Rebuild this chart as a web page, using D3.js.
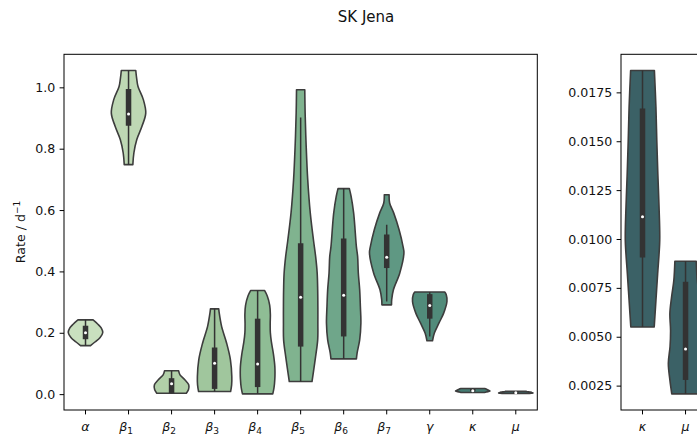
<!DOCTYPE html>
<html>
<head>
<meta charset="utf-8">
<script src="https://cdn.jsdelivr.net/npm/d3@7"></script>
<style>
  body { margin: 0; background: #fff; }
  svg { display: block; font-family: "DejaVu Sans", sans-serif; }
</style>
</head>
<body>
<svg id="chart" width="697" height="436"></svg>
<script>
// Fitted rate parameters for SK Jena: one violin per parameter.
const params = ["alpha", "beta1", "beta2", "beta3", "beta4", "beta5", "beta6", "beta7", "gamma", "kappa", "mu"];
const labelBase = ["α", "β", "β", "β", "β", "β", "β", "β", "γ", "κ", "μ"];
const labelSub = ["", "1", "2", "3", "4", "5", "6", "7", "", "", ""];
const fills = ["#c9e0bf", "#bed8b4", "#b1d0a8", "#a0c69d", "#8fbd95", "#80b38f", "#6fa68a", "#5f9883", "#518b7a", "#447b72", "#3c6a6b"];

// small-rate parameters repeated on their own axis
const zoomParams = ["kappa", "mu"];
const zoomFill = "#3b6166";

// box summary per parameter (same order as params)
const medians = [0.200, 0.913, 0.034, 0.101, 0.098, 0.316, 0.322, 0.446, 0.289, 0.01114, 0.00437];
const q1 = [0.179, 0.875, 0.003, 0.017, 0.023, 0.155, 0.188, 0.411, 0.246, 0.00905, 0.00279];
const q3 = [0.223, 0.995, 0.052, 0.152, 0.246, 0.492, 0.507, 0.520, 0.326, 0.01668, 0.00781];
const whiskLo = [0.158, 0.748, 0.003, 0.0085, 0.001, 0.041, 0.115, 0.302, 0.188, 0.0055, 0.00208];
const whiskHi = [0.242, 1.055, 0.076, 0.278, 0.338, 0.902, 0.670, 0.552, 0.333, 0.01862, 0.00886];

// density profiles: [rate, density relative to the violin's peak]
const shapeAlpha = [[0.158, 0.29], [0.170, 0.55], [0.185, 0.85], [0.200, 1.0], [0.215, 0.92], [0.228, 0.72], [0.242, 0.44]];
const shapeBeta1 = [[0.748, 0.25], [0.786, 0.31], [0.830, 0.48], [0.873, 0.78], [0.916, 1.0], [0.960, 0.86], [1.003, 0.55], [1.030, 0.47], [1.055, 0.42]];
const shapeBeta2 = [[0.003, 0.86], [0.014, 0.98], [0.030, 1.0], [0.047, 0.77], [0.063, 0.49], [0.076, 0.41]];
const shapeBeta3 = [[0.0085, 0.93], [0.030, 0.99], [0.057, 1.0], [0.112, 0.92], [0.166, 0.70], [0.220, 0.41], [0.264, 0.27], [0.278, 0.24]];
const shapeBeta4 = [[0.001, 0.88], [0.020, 0.95], [0.050, 1.0], [0.090, 1.0], [0.130, 0.92], [0.170, 0.80], [0.200, 0.74], [0.230, 0.73], [0.260, 0.74], [0.290, 0.70], [0.320, 0.56], [0.338, 0.40]];
const shapeBeta5 = [[0.041, 0.66], [0.068, 0.73], [0.123, 0.87], [0.177, 0.99], [0.230, 1.0], [0.286, 1.0], [0.340, 0.99], [0.395, 0.96], [0.449, 0.87], [0.500, 0.75], [0.590, 0.56], [0.700, 0.41], [0.810, 0.32], [0.917, 0.26], [0.992, 0.24]];
const shapeBeta6 = [[0.115, 0.74], [0.134, 0.78], [0.177, 0.93], [0.232, 1.0], [0.286, 0.97], [0.340, 0.93], [0.395, 0.85], [0.449, 0.81], [0.480, 0.74], [0.590, 0.58], [0.645, 0.43], [0.670, 0.33]];
const shapeBeta7 = [[0.291, 0.28], [0.308, 0.29], [0.340, 0.39], [0.395, 0.76], [0.460, 1.0], [0.481, 0.95], [0.536, 0.72], [0.590, 0.41], [0.623, 0.17], [0.650, 0.14]];
const shapeGamma = [[0.174, 0.16], [0.199, 0.27], [0.232, 0.54], [0.264, 0.81], [0.302, 1.0], [0.324, 0.96], [0.333, 0.87]];
const shapeKappa = [[0.0055, 0.68], [0.00687, 0.78], [0.00823, 0.88], [0.00993, 1.0], [0.01163, 0.96], [0.01334, 0.89], [0.01504, 0.83], [0.01673, 0.78], [0.01862, 0.69]];
const shapeMu = [[0.00208, 0.80], [0.00279, 0.91], [0.00364, 1.0], [0.0045, 0.90], [0.00534, 0.87], [0.00619, 0.91], [0.00704, 0.81], [0.00789, 0.68], [0.00886, 0.62]];

const shapes = [shapeAlpha, shapeBeta1, shapeBeta2, shapeBeta3, shapeBeta4, shapeBeta5, shapeBeta6, shapeBeta7, shapeGamma, shapeKappa, shapeMu];

const mainTicks = [0.0, 0.2, 0.4, 0.6, 0.8, 1.0];
const zoomTicks = [0.0025, 0.0050, 0.0075, 0.0100, 0.0125, 0.0150, 0.0175];

// ---------------------------------------------------------------------------
const svg = d3.select("#chart");
const FONT = 12.6;
const TICK = 4.4;
const EDGE = "#3d3d3d";
const BOXC = "#333333";

svg.append("text")
  .attr("x", 366).attr("y", 21.5)
  .attr("text-anchor", "middle")
  .attr("font-size", 15)
  .attr("fill", "#111")
  .text("SK Jena");

// matplotlib-style autoscale: data extent with 5% margins
function paddedDomain(idx) {
  const lo = d3.min(idx, i => Math.min(shapes[i][0][0], whiskLo[i]));
  const hi = d3.max(idx, i => Math.max(shapes[i][shapes[i].length - 1][0], whiskHi[i]));
  const m = (hi - lo) * 0.05;
  return [lo - m, hi + m];
}

function drawPanel(opts) {
  const { left, right, top, bottom, idx, names, colorOf, ticks, fmt, clipId } = opts;
  const g = svg.append("g");

  const x = d3.scaleBand().domain(names).range([left, right]).padding(0);
  const y = d3.scaleLinear().domain(paddedDomain(idx)).range([bottom, top]);
  const half = x.bandwidth() * 0.8 / 2;

  svg.append("clipPath").attr("id", clipId)
    .append("rect").attr("x", left).attr("y", top)
    .attr("width", right - left).attr("height", bottom - top);

  const plot = g.append("g").attr("clip-path", `url(#${clipId})`);

  idx.forEach((i, k) => {
    const cx = x(names[k]) + x.bandwidth() / 2;
    const area = d3.area()
      .curve(d3.curveCatmullRom.alpha(0.5))
      .y(d => y(d[0]))
      .x0(d => cx - d[1] * half)
      .x1(d => cx + d[1] * half);

    plot.append("path")
      .attr("d", area(shapes[i]))
      .attr("fill", colorOf(i, k))
      .attr("stroke", EDGE)
      .attr("stroke-width", 1.6)
      .attr("stroke-linejoin", "round");

    // whisker
    plot.append("line")
      .attr("x1", cx).attr("x2", cx)
      .attr("y1", y(whiskLo[i])).attr("y2", y(whiskHi[i]))
      .attr("stroke", BOXC).attr("stroke-width", 1.5);
    // interquartile box
    plot.append("line")
      .attr("x1", cx).attr("x2", cx)
      .attr("y1", y(q1[i])).attr("y2", y(q3[i]))
      .attr("stroke", BOXC).attr("stroke-width", 5.5);
    // median
    plot.append("circle")
      .attr("cx", cx).attr("cy", y(medians[i]))
      .attr("r", 1.5).attr("fill", "#fff");
  });

  // y axis
  const ya = g.append("g").attr("transform", `translate(${left},0)`)
    .call(d3.axisLeft(y).tickValues(ticks).tickFormat(fmt).tickSize(TICK).tickPadding(4.4));
  ya.select(".domain").remove();
  ya.selectAll(".tick line").attr("stroke", "#000").attr("stroke-width", 1);
  ya.selectAll(".tick text").attr("font-size", FONT).attr("font-family", "DejaVu Sans").attr("fill", "#111");

  // x axis with italic greek labels
  const xa = g.append("g").attr("transform", `translate(0,${bottom})`)
    .call(d3.axisBottom(x).tickSize(TICK).tickFormat(""));
  xa.select(".domain").remove();
  xa.selectAll(".tick line").attr("stroke", "#000").attr("stroke-width", 1);
  xa.selectAll(".tick text").remove();
  names.forEach((n, k) => {
    const i = idx[k];
    const t = g.append("text")
      .attr("x", x(n) + x.bandwidth() / 2 - (labelSub[i] ? 2.5 : 0))
      .attr("y", bottom + 20.5)
      .attr("text-anchor", "middle")
      .attr("font-size", FONT)
      .attr("font-style", "italic")
      .attr("fill", "#111");
    t.append("tspan").text(labelBase[i]);
    if (labelSub[i]) {
      t.append("tspan").attr("font-style", "normal").attr("font-size", 9)
        .attr("dy", 3).text(labelSub[i]);
    }
  });

  // frame
  g.append("rect")
    .attr("x", left).attr("y", top)
    .attr("width", right - left).attr("height", bottom - top)
    .attr("fill", "none").attr("stroke", "#000").attr("stroke-width", 1);

  return g;
}

const mainIdx = params.map((_, i) => i);
drawPanel({
  left: 64, right: 537.3, top: 54.3, bottom: 410,
  idx: mainIdx, names: params,
  colorOf: i => fills[i],
  ticks: mainTicks, fmt: d3.format(".1f"), clipId: "clipMain"
});

const zIdx = zoomParams.map(p => params.indexOf(p));
drawPanel({
  left: 621, right: 621 + 2 * 43.03, top: 54.3, bottom: 410,
  idx: zIdx, names: zoomParams,
  colorOf: () => zoomFill,
  ticks: zoomTicks, fmt: d3.format(".4f"), clipId: "clipZoom"
});

// y label
const yl = svg.append("text")
  .attr("transform", "translate(25,232) rotate(-90)")
  .attr("text-anchor", "middle")
  .attr("font-size", FONT)
  .attr("fill", "#111");
yl.append("tspan").text("Rate / d");
yl.append("tspan").attr("font-size", 9).attr("dy", -5).text("−1");
</script>
</body>
</html>
